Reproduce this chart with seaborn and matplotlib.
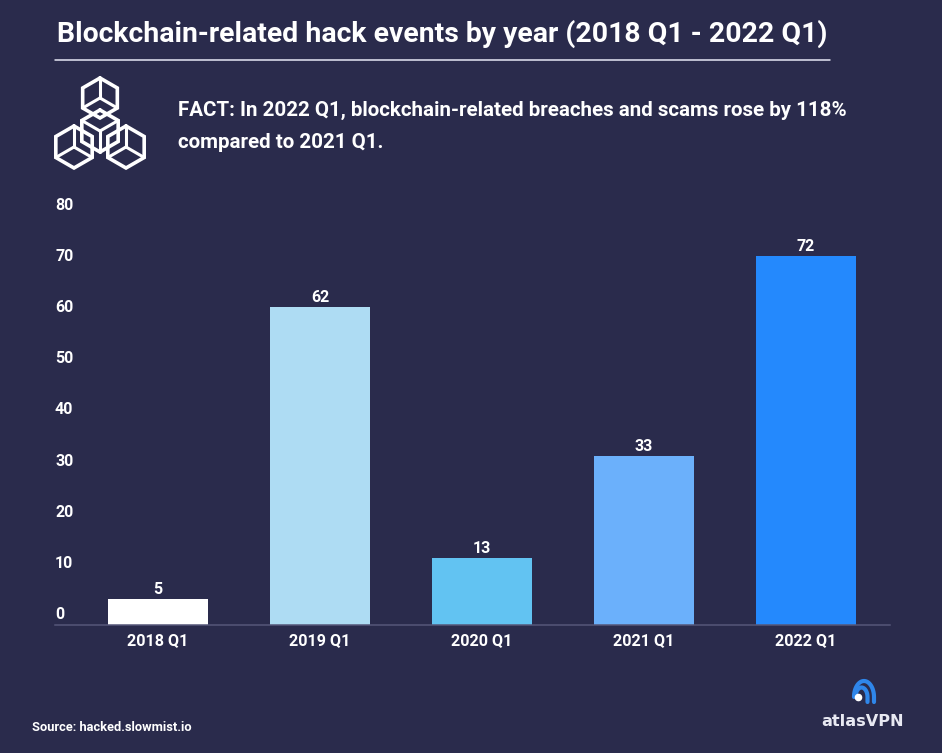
import numpy as np
import pandas as pd
import seaborn as sns
import matplotlib
matplotlib.use("Agg")
import matplotlib.pyplot as plt
from matplotlib.transforms import ScaledTranslation

quarters = ["2018 Q1", "2019 Q1", "2020 Q1", "2021 Q1", "2022 Q1"]
events = [5, 62, 13, 33, 72]
bar_colors = ["#ffffff", "#aedcf3", "#62c3f2", "#6bb0fb", "#2489fd"]
y_ticks = [0, 10, 20, 30, 40, 50, 60, 70, 80]

BG = "#2a2b4c"
W, H = 942, 753

sns.set_theme(style="white")
plt.rcParams["font.family"] = ["Roboto", "DejaVu Sans"]
plt.rcParams["font.weight"] = "bold"

fig = plt.figure(figsize=(W / 100, H / 100), dpi=100, facecolor=BG)

# chart area in pixels: x 55..890, y 204..624
ax = fig.add_axes([55 / W, 1 - 624.5 / H, 835 / W, 420.5 / H], facecolor=BG)
df = pd.DataFrame({"quarter": quarters, "events": events})
sns.barplot(data=df, x="quarter", y="events", hue="quarter", palette=bar_colors,
            width=0.62, legend=False, saturation=1, linewidth=0, ax=ax)
ax.set_xlim(-0.636, 4.519)
ax.set_ylim(0, 82.2)
ax.set_xlabel("")
ax.set_ylabel("")
sns.despine(ax=ax, left=True)
ax.spines["bottom"].set_color("#565779")
ax.spines["bottom"].set_linewidth(1.1)

for c in ax.containers:
    ax.bar_label(c, padding=1.5, color="white", fontsize=11.5, fontweight="bold")

ax.set_yticks(y_ticks)
ax.set_yticklabels([str(t) for t in y_ticks])
ax.tick_params(axis="y", length=0, pad=0, labelsize=11.5, labelcolor="white")
ax.tick_params(axis="x", length=0, pad=6, labelsize=11.6, labelcolor="white")
# y labels sit a bit above their gridline in the original
shift = ScaledTranslation(0, 11.5 / 100, fig.dpi_scale_trans)
for lab in ax.get_yticklabels():
    lab.set_ha("left")
    lab.set_transform(lab.get_transform() + shift)

# overlay in pixel coords for the header, icon and logo
ov = fig.add_axes([0, 0, 1, 1], facecolor="none")
ov.set_xlim(0, W)
ov.set_ylim(H, 0)
ov.axis("off")

ov.text(57, 34, "Blockchain-related hack events by year (2018 Q1 - 2022 Q1)",
        color="white", fontsize=20.4, fontweight="bold", va="center", ha="left")
ov.plot([55, 830], [59.5, 59.5], color="#e6e8f5", lw=1.1)
ov.text(178, 110, "FACT: In 2022 Q1, blockchain-related breaches and scams rose by 118%",
        color="white", fontsize=14.76, fontweight="bold", va="center", ha="left")
ov.text(178, 142, "compared to 2021 Q1.",
        color="white", fontsize=14.76, fontweight="bold", va="center", ha="left")
ov.text(32, 727.5, "Source: hacked.slowmist.io",
        color="white", fontsize=9.3, fontweight="bold", va="center", ha="left")


def cube(cx, cy, r, flip=False):
    ang = np.radians(np.arange(-90, 300, 60))
    xs, ys = cx + r * np.cos(ang), cy + r * np.sin(ang)
    ov.plot(xs, ys, color="white", lw=2.6, solid_joinstyle="miter")
    # spokes go to every second corner
    idx = [1, 3, 5] if flip else [0, 2, 4]
    for i in idx:
        ov.plot([cx, xs[i]], [cy, ys[i]], color="white", lw=2.2)


cube(100, 98, 20)
cube(74, 147, 21)
cube(126, 147, 21)
cube(100, 131, 21, flip=True)

# atlasVPN logo
t = np.radians(np.linspace(180, 360, 30))
for cx, rx, ry in [(864, 10, 16), (861.5, 6, 9.5)]:
    xs = np.r_[cx + rx * np.cos(t), cx + rx]
    ys = np.r_[697 + ry * np.sin(t), 702]
    ov.plot(xs, ys, color="#2f86ea", lw=3, solid_capstyle="round")
ov.scatter([858], [697], s=20, color="white", zorder=3)
ov.text(862.5, 722, "atlasVPN", color="#e8e9f2", fontsize=11.6, fontweight="bold",
        family="DejaVu Sans", va="center", ha="center")

fig.savefig("out.png", dpi=100, facecolor=BG)
